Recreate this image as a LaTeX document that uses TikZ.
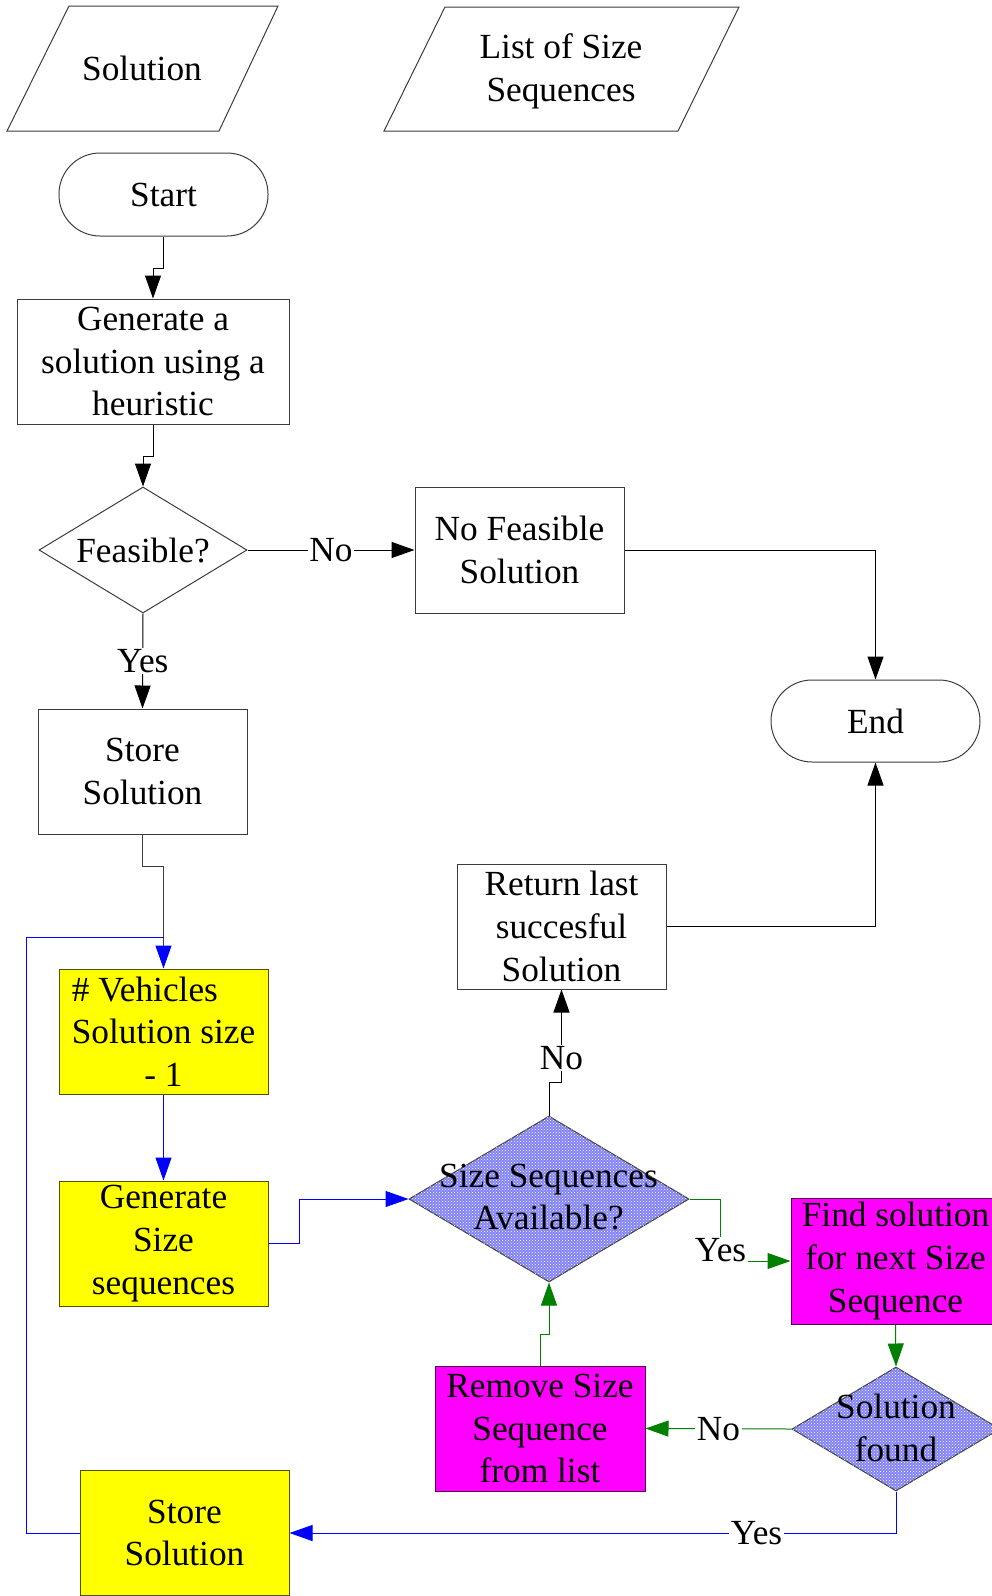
\documentclass[tikz,border=0pt]{standalone}
\usepackage{fontspec}
\setmainfont{Liberation Serif}
\usetikzlibrary{shapes.geometric,arrows.meta,patterns}

\definecolor{boxline}{RGB}{60,60,60}
\definecolor{hiyellow}{RGB}{255,255,0}
\definecolor{yelline}{RGB}{80,80,0}
\definecolor{himag}{RGB}{255,0,255}
\definecolor{magline}{RGB}{90,0,90}
\definecolor{flowblue}{RGB}{0,0,255}
\definecolor{flowgreen}{RGB}{0,128,0}
\definecolor{hatchblue}{RGB}{130,130,245}

\tikzset{
  txt/.style={font=\fontsize{35.3}{42.7}\selectfont, align=center, inner sep=0pt},
  proc/.style={txt, draw=boxline, line width=1pt, rectangle,
    minimum width=209pt, minimum height=125pt},
  yproc/.style={proc, fill=hiyellow, draw=yelline},
  mproc/.style={proc, fill=himag, draw=magline},
  term/.style={txt, draw=boxline, line width=1pt, rectangle, rounded corners=41pt,
    minimum width=209pt, minimum height=83pt},
  decide/.style={diamond, draw=boxline, line width=1pt, inner sep=0pt},
  hatched/.style={fill=hatchblue, postaction={pattern=crosshatch dots, pattern color=white}},
  io/.style={draw=boxline, line width=1pt},
  lbl/.style={txt, fill=white, inner sep=1.5pt},
  tip/.style={-{Triangle[length=23pt,width=16pt]}},
  flow/.style={draw=black, line width=1pt, tip},
  bflow/.style={draw=flowblue, line width=1pt, -{Triangle[length=23pt,width=16pt,color=flowblue]}},
  gflow/.style={draw=flowgreen, line width=1pt, -{Triangle[length=23pt,width=16pt,color=flowgreen]}},
}

\begin{document}
\begin{tikzpicture}[x=1pt,y=-1pt]
\useasboundingbox (0,0) rectangle (991,1596);

% data inputs
\draw[io] (69,6) -- (278,6) -- (219,131) -- (7,131) -- cycle;
\node[txt] (soltxt) at (142,68) {Solution};
\draw[io] (445,7) -- (739,7) -- (678,131) -- (384,131) -- cycle;
\node[txt] (listtxt) at (561,71) {List of Size\\Sequences};

% main path
\node[term] (start) at (163.5,194.5) {Start};
\node[proc, minimum width=272pt] (gen) at (153,361.5) {Generate a\\solution using a\\heuristic};
\node[decide, minimum width=208pt, minimum height=126pt] (feas) at (143,550) {};
\node[txt] (feastxt) at (feas) {Feasible?};
\node[proc, minimum height=126pt] (nofeas) at (519.5,550) {No Feasible\\Solution};
\node[term, minimum height=82pt] (endn) at (875.5,721) {End};
\node[proc] (store1) at (142.5,771.5) {Store\\Solution};
\node[proc] (ret) at (561.5,926.5) {Return last\\succesful\\Solution};

% size sequence loop
\node[yproc] (veh) at (163.5,1031.5) {\makebox[0pt][l]{\# Vehicles}\phantom{Solution size}\\Solution size\\- 1};
\node[yproc] (gsz) at (163.5,1243.5) {Generate\\Size\\sequences};
\node[decide, hatched, minimum width=280pt, minimum height=166pt] (ssa) at (549,1199) {};
\node[txt] (ssatxt) at (548.5,1197) {Size Sequences\\Available?};
\node[mproc, minimum height=126pt] (find) at (895.5,1261) {Find solution\\for next Size\\Sequence};
\node[decide, hatched, minimum width=208pt, minimum height=124pt] (sfound) at (896,1429) {};
\node[txt] (sfoundtxt) at (896,1428) {Solution\\found};
\node[mproc, minimum width=210pt] (remove) at (540,1428.5) {Remove Size\\Sequence\\from list};
\node[yproc] (store2) at (184.5,1533) {Store\\Solution};
\coordinate (jn) at (163.5,937);

% connectors
\draw[flow] (start.south) -- ++(0,32) -| (gen.north);
\draw[flow] (gen.south) -- ++(0,32) -| (feas.north);
\draw[flow] (feas.east) -- node[lbl]{No} (nofeas.west);
\draw[flow] (feas.south) -- node[lbl]{Yes} (store1.north);
\draw[flow] (nofeas.east) -| (endn.north);
\draw[flow] (ret.east) -| (endn.south);
\draw[draw=boxline, line width=1pt, -{Triangle[length=23pt,width=16pt,color=flowblue]}]
  (store1.south) -- ++(0,32) -| (veh.north);
\draw[draw=flowblue, line width=1pt] (store2.west) -- ++(-53,0) |- (jn);
\draw[bflow] (veh.south) -- (gsz.north);
\draw[bflow] (gsz.east) -- ++(31,0) |- (ssa.west);
\draw[flow] (ssa.north) -- ++(0,-33) -| node[lbl, pos=0.633]{No} (ret.south);
\draw[gflow] (ssa.east) -- ++(31,0) |- node[lbl, pos=0.5, yshift=11pt]{Yes} (find.west);
\draw[gflow] (find.south) -- (sfound.north);
\draw[gflow] (sfound.west) -- node[lbl]{No} (remove.east);
\draw[gflow] (remove.north) -- ++(0,-31) -| (ssa.south);
\draw[bflow] (sfound.south) |- node[lbl, pos=0.615]{Yes} (store2.east);
\end{tikzpicture}
\end{document}
